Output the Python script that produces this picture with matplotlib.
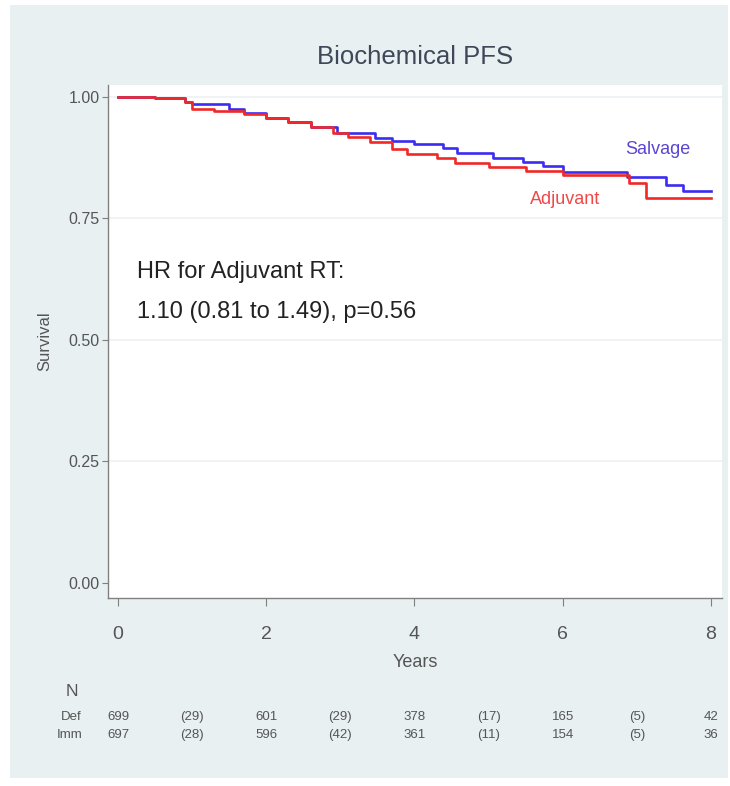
import matplotlib
matplotlib.use("Agg")
import matplotlib.pyplot as plt
import matplotlib.transforms as mtransforms
from matplotlib.patches import Rectangle

plt.rcParams['font.family'] = ['Liberation Sans', 'DejaVu Sans']

# Kaplan-Meier step estimates
salvage_t = [0.0, 0.5, 0.9, 1.0, 1.5, 1.7, 2.0, 2.3, 2.6, 2.95, 3.47, 3.7, 4.0, 4.39, 4.57,
             5.06, 5.47, 5.74, 6.0, 6.87, 7.4, 7.62, 8.0]
salvage_s = [1.000, 0.997, 0.990, 0.986, 0.975, 0.967, 0.957, 0.948, 0.938, 0.926, 0.915, 0.909,
             0.903, 0.895, 0.884, 0.875, 0.866, 0.857, 0.845, 0.836, 0.819, 0.806, 0.806]
adjuvant_t = [0.0, 0.5, 0.9, 1.0, 1.3, 1.7, 2.0, 2.3, 2.6, 2.9, 3.1, 3.4, 3.7, 3.9, 4.3, 4.55,
              5.0, 5.5, 6.0, 6.9, 7.13, 8.0]
adjuvant_s = [1.000, 0.997, 0.990, 0.975, 0.971, 0.966, 0.957, 0.948, 0.938, 0.925, 0.918, 0.907,
              0.893, 0.882, 0.874, 0.864, 0.855, 0.847, 0.840, 0.823, 0.792, 0.792]

# Numbers at risk (events in brackets)
risk_times = [0, 1, 2, 3, 4, 5, 6, 7, 8]
risk_def = ["699", "(29)", "601", "(29)", "378", "(17)", "165", "(5)", "42"]
risk_imm = ["697", "(28)", "596", "(42)", "361", "(11)", "154", "(5)", "36"]
risk_groups = ["Def", "Imm"]

x_ticks = [0, 2, 4, 6, 8]
y_ticks = [0.00, 0.25, 0.50, 0.75, 1.00]

W, H = 730, 786
fig = plt.figure(figsize=(W / 100, H / 100), dpi=100)
fig.patch.set_facecolor("white")

def fx(px):
    return px / W

def fy(py):
    return 1 - py / H

# light panel behind everything
fig.patches.append(Rectangle((fx(10), fy(778)), fx(718), 773 / H, transform=fig.transFigure,
                             facecolor="#e8f0f2", edgecolor="none", zorder=-5))

ax = fig.add_axes([fx(108), fy(598), fx(722 - 108), (598 - 85) / H])
ax.set_zorder(2)
ax.set_facecolor("white")

ax.set_xlim(-0.135, 8.15)
ax.set_ylim(-0.031, 1.0247)

for y in y_ticks[1:]:
    ax.axhline(y, color="#eef1f3", lw=1.2, zorder=1)

ax.plot(salvage_t, salvage_s, drawstyle="steps-post", color="#3a2cf0", lw=1.9, zorder=3)
ax.plot(adjuvant_t, adjuvant_s, drawstyle="steps-post", color="#f02828", lw=1.9, zorder=4)

ax.text(7.29, 0.891, "Salvage", color="#5a46d0", fontsize=13, ha="center", va="center")
ax.text(6.03, 0.790, "Adjuvant", color="#f04848", fontsize=13, ha="center", va="center")

ax.text(0.26, 0.64, "HR for Adjuvant RT:", fontsize=17, color="#222222", ha="left", va="center")
ax.text(0.26, 0.557, "1.10 (0.81 to 1.49), p=0.56", fontsize=17, color="#222222",
        ha="left", va="center")

for side in ["top", "right"]:
    ax.spines[side].set_visible(False)
for side in ["left", "bottom"]:
    ax.spines[side].set_color("#808080")
    ax.spines[side].set_linewidth(1.0)

ax.set_xticks(x_ticks)
ax.set_yticks(y_ticks)
ax.set_yticklabels([f"{v:.2f}" for v in y_ticks])
ax.tick_params(axis="y", length=4, color="#808080", labelsize=11.5, labelcolor="#555555", pad=2)
ax.tick_params(axis="x", length=6, color="#808080", labelsize=14, labelcolor="#555555", pad=14)

ax.set_xlabel("Years", fontsize=13, color="#555555", labelpad=8)
ax.set_ylabel("Survival", fontsize=12, color="#555555", labelpad=12)

fig.text(0.5 * (fx(108) + fx(722)), fy(57), "Biochemical PFS", fontsize=18.5, color="#3e4858",
         ha="center", va="center")

# risk table
blend = mtransforms.blended_transform_factory(ax.transData, fig.transFigure)
fig.text(fx(72), fy(692), "N", fontsize=12.5, color="#555555", ha="center", va="center")
for row_y, grp, vals in [(717, risk_groups[0], risk_def), (735, risk_groups[1], risk_imm)]:
    fig.text(fx(82), fy(row_y), grp, fontsize=9.5, color="#555555", ha="right", va="center")
    for t, v in zip(risk_times, vals):
        ax.text(t, fy(row_y), v, transform=blend, fontsize=9.5, color="#555555",
                ha="center", va="center", clip_on=False)

fig.savefig("out.png", dpi=100)
